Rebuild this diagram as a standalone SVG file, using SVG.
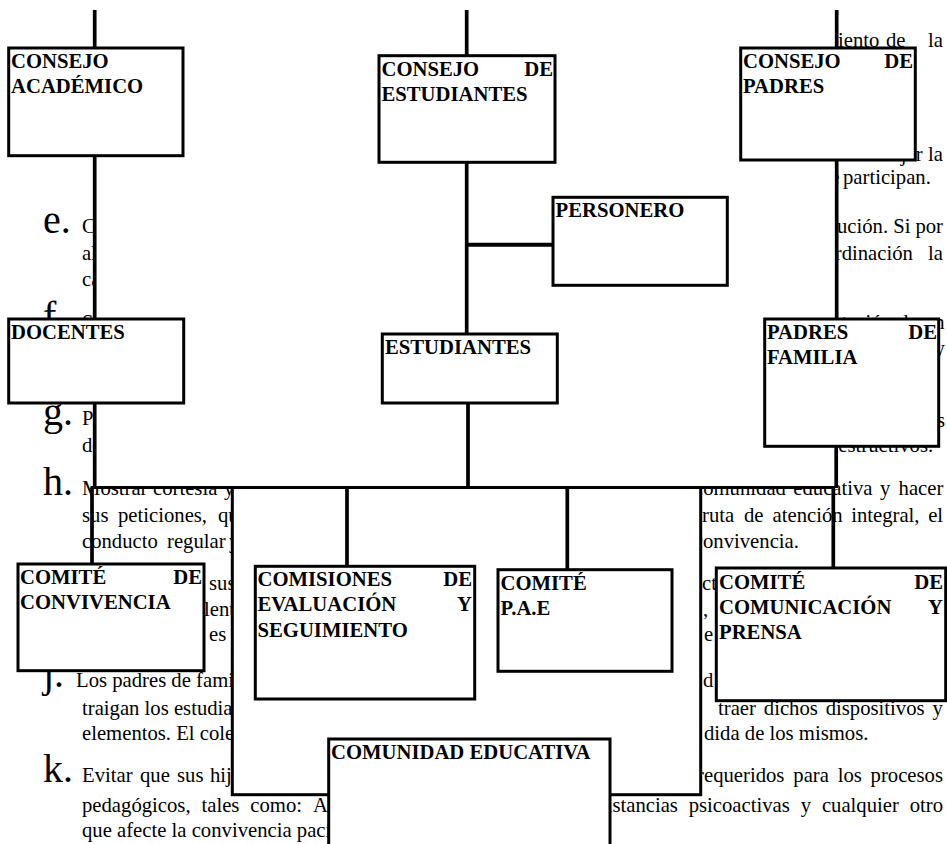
<svg xmlns="http://www.w3.org/2000/svg" width="947" height="844" viewBox="0 0 947 844">
<defs>
<style>
.box{fill:#fff;stroke:#000;stroke-width:3}
.lbl{font-family:"Liberation Serif","Times New Roman",serif;font-weight:bold;font-size:20.7px;fill:#000}
.body{font-family:"Liberation Serif","Times New Roman",serif;font-size:20.7px;fill:#000}
.bul{font-family:"Liberation Serif","Times New Roman",serif;font-size:40px;fill:#000}
.con{stroke:#000;stroke-width:3.7;fill:none}
.end{text-anchor:end}
</style>
<clipPath id="vis">
<rect x="0" y="0" width="94" height="488"/>
<rect x="836" y="0" width="111" height="488"/>
<rect x="0" y="488" width="233" height="356"/>
<rect x="701" y="488" width="246" height="356"/>
<rect x="0" y="795" width="329" height="49"/>
<rect x="610" y="795" width="337" height="49"/>
</clipPath>
</defs>
<rect width="947" height="844" fill="#fff"/>

<g id="background-text" clip-path="url(#vis)">
<text class="bul" x="43" y="233">e.</text>
<text class="bul" x="43" y="329">f.</text>
<text class="bul" x="43" y="425">g.</text>
<text class="bul" x="43" y="495">h.</text>
<text class="bul" x="43" y="687">j.</text>
<text class="bul" x="43" y="782">k.</text>

<text class="body" x="82" y="233">C</text>
<text class="body" x="82" y="260">al</text>
<text class="body" x="82" y="286">ca</text>
<text class="body" x="82" y="329">S</text>
<text class="body" x="82" y="425">P</text>
<text class="body" x="82" y="452">de</text>
<text class="body" y="495"><tspan x="82">Mostrar</tspan><tspan x="153">cortesía</tspan><tspan x="224">y</tspan></text>
<text class="body" y="522"><tspan x="82">sus</tspan><tspan x="118">peticiones,</tspan><tspan x="218">que</tspan></text>
<text class="body" y="548"><tspan x="82">conducto</tspan><tspan x="167">regular</tspan><tspan x="229">y</tspan></text>
<text class="body" x="209" y="590">sus</text>
<text class="body" x="204" y="616">lent</text>
<text class="body" x="209" y="641">es</text>
<text class="body" x="76" y="687">Los padres de familia</text>
<text class="body" x="82" y="715">traigan los estudiantes</text>
<text class="body" x="82" y="740">elementos. El colegio</text>
<text class="body" y="782"><tspan x="82">Evitar</tspan><tspan x="140">que</tspan><tspan x="177">sus</tspan><tspan x="210">hijos</tspan></text>
<text class="body" y="812"><tspan x="82">pedagógicos,</tspan><tspan x="201.5">tales</tspan><tspan x="250.3">como:</tspan><tspan x="313">A</tspan></text>
<text class="body" x="82" y="837">que afecte la convivencia pacífica.</text>

<text class="body" y="47"><tspan x="822">miento</tspan><tspan x="886">de</tspan><tspan x="928">la</tspan></text>
<text class="body" y="161"><tspan x="856">manejar</tspan><tspan x="928">la</tspan></text>
<text class="body" y="184"><tspan x="809.5">que</tspan><tspan x="843">participan.</tspan></text>
<text class="body" y="233"><tspan x="795.6">institución.</tspan><tspan x="893.2">Si</tspan><tspan x="915.4">por</tspan></text>
<text class="body" y="260"><tspan x="804.9">coordinación</tspan><tspan x="928">la</tspan></text>
<text class="body" y="329"><tspan x="799">orientación</tspan><tspan x="898">de</tspan><tspan x="924">un</tspan></text>
<text class="body" x="934.6" y="355">y</text>
<text class="body" x="920.8" y="427">los</text>
<text class="body" x="828" y="452">destructivos.</text>
<text class="body" y="495"><tspan x="694">comunidad</tspan><tspan x="793.3">educativa</tspan><tspan x="880.1">y</tspan><tspan x="898.6">hacer</tspan></text>
<text class="body" y="522"><tspan x="702">ruta</tspan><tspan x="744">de</tspan><tspan x="772.6">atención</tspan><tspan x="851.2">integral,</tspan><tspan x="928.2">el</tspan></text>
<text class="body" x="693.8" y="548">convivencia.</text>
<text class="body" x="702" y="590">ct</text>
<text class="body" x="703" y="616">,</text>
<text class="body" x="704" y="641">e</text>
<text class="body" x="703" y="687">d</text>
<text class="body" y="715"><tspan x="718">traer</tspan><tspan x="763.8">dichos</tspan><tspan x="825.7">dispositivos</tspan><tspan x="932.6">y</tspan></text>
<text class="body" x="704" y="740">dida de los mismos.</text>
<text class="body" y="782"><tspan x="697.1">requeridos</tspan><tspan x="793.3">para</tspan><tspan x="837.7">los</tspan><tspan x="870.6">procesos</tspan></text>
<text class="body" y="812"><tspan x="594">sustancias</tspan><tspan x="688.7">psicoactivas</tspan><tspan x="800.7">y</tspan><tspan x="821.9">cualquier</tspan><tspan x="909.7">otro</tspan></text>
</g>

<g id="frame">
<rect class="box" x="232.3" y="487.5" width="468.4" height="307.2"/>
</g>

<g id="connectors" class="con">
<path d="M94.7 10V48M94.7 155.7V319M94.7 403V488"/>
<path d="M92 487.5V564"/>
<path d="M466.7 10V55.7M466.7 162.3V334M468 403V488"/>
<path d="M466.7 244.7H553" stroke-width="4"/>
<path d="M836.7 10V48M836.7 160V319M836.2 446.3V488"/>
<path d="M833.3 487.5V568"/>
<path d="M90.5 487.5H835" stroke-width="3"/>
<path d="M347 487.5V566.3M567.3 487.5V569.7"/>
</g>

<g id="consejo-academico">
<rect class="box" x="8.7" y="48" width="174.3" height="107.7"/>
<text class="lbl" x="11" y="68">CONSEJO</text>
<text class="lbl" x="11" y="93">ACADÉMICO</text>
</g>
<g id="consejo-estudiantes">
<rect class="box" x="379" y="55.7" width="176" height="106.6"/>
<text class="lbl" x="381.5" y="75.5">CONSEJO</text>
<text class="lbl end" x="553" y="75.5">DE</text>
<text class="lbl" x="381.5" y="100.5">ESTUDIANTES</text>
</g>
<g id="consejo-padres">
<rect class="box" x="740.7" y="48" width="174.6" height="112"/>
<text class="lbl" x="743" y="68">CONSEJO</text>
<text class="lbl end" x="913" y="68">DE</text>
<text class="lbl" x="743" y="93">PADRES</text>
</g>
<g id="personero">
<rect class="box" x="553" y="197.3" width="174.3" height="88"/>
<text class="lbl" x="555.5" y="217">PERSONERO</text>
</g>
<g id="docentes">
<rect class="box" x="8.7" y="319" width="175" height="84"/>
<text class="lbl" x="11" y="338.5">DOCENTES</text>
</g>
<g id="estudiantes">
<rect class="box" x="382.3" y="334" width="175" height="69"/>
<text class="lbl" x="385" y="353.5">ESTUDIANTES</text>
</g>
<g id="padres-familia">
<rect class="box" x="764.7" y="319" width="174" height="127.3"/>
<text class="lbl" x="767" y="338.5">PADRES</text>
<text class="lbl end" x="937" y="338.5">DE</text>
<text class="lbl" x="767" y="363.5">FAMILIA</text>
</g>
<g id="comite-convivencia">
<rect class="box" x="18" y="564" width="186" height="106.7"/>
<text class="lbl" x="20" y="583.5">COMITÉ</text>
<text class="lbl end" x="202" y="583.5">DE</text>
<text class="lbl" x="20" y="608.5">CONVIVENCIA</text>
</g>
<g id="comisiones">
<rect class="box" x="255.3" y="566.3" width="219.4" height="132.7"/>
<text class="lbl" x="257.5" y="585.5">COMISIONES</text>
<text class="lbl end" x="472" y="585.5">DE</text>
<text class="lbl" x="257.5" y="611">EVALUACIÓN</text>
<text class="lbl end" x="472" y="611">Y</text>
<text class="lbl" x="257.5" y="636.5">SEGUIMIENTO</text>
</g>
<g id="comite-pae">
<rect class="box" x="498" y="569.7" width="174" height="101.6"/>
<text class="lbl" x="500.5" y="589.5">COMITÉ</text>
<text class="lbl" x="500.5" y="614.5">P.A.E</text>
</g>
<g id="comite-comunicacion">
<rect class="box" x="716.3" y="568" width="229.4" height="132.7"/>
<text class="lbl" x="719" y="588.5">COMITÉ</text>
<text class="lbl end" x="943" y="588.5">DE</text>
<text class="lbl" x="719" y="613.5">COMUNICACIÓN</text>
<text class="lbl end" x="943" y="613.5">Y</text>
<text class="lbl" x="719" y="638.5">PRENSA</text>
</g>
<g id="comunidad-educativa">
<rect class="box" x="328.7" y="739" width="281.3" height="130"/>
<text class="lbl" x="331" y="758.5">COMUNIDAD EDUCATIVA</text>
</g>
</svg>
